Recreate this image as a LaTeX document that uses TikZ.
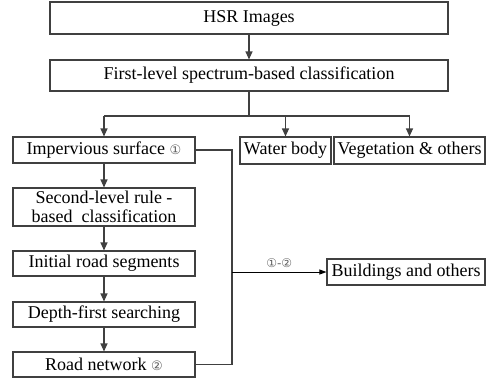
\documentclass[tikz,border=0pt]{standalone}
\usepackage{fontspec}
\setmainfont{Liberation Serif}
\newfontfamily\symfont{DejaVu Sans}
\usetikzlibrary{arrows.meta}
\definecolor{linegray}{HTML}{404040}
\definecolor{circgray}{HTML}{606060}
\newcommand{\cOne}{{\symfont\color{circgray}\fontsize{13pt}{13pt}\selectfont ①}}
\newcommand{\cTwo}{{\symfont\color{circgray}\fontsize{13pt}{13pt}\selectfont ②}}
\begin{document}
\begin{tikzpicture}[x=1pt,y=-1pt,
  box/.style={draw=linegray,line width=1.1pt,rectangle,inner sep=0pt,align=center,
    font=\fontsize{18pt}{18.5pt}\selectfont},
  conn/.style={draw=linegray,line width=1.1pt},
  arr/.style={conn,-{Triangle[length=8pt,width=7pt]}},
  thinarr/.style={draw=black,line width=0.9pt,-{Triangle[length=7pt,width=5pt]}}]
\useasboundingbox (0,0) rectangle (489,384);
\node[box,minimum width=398pt,minimum height=32pt] (hsr) at (249,18) {HSR Images};
\node[box,minimum width=398pt,minimum height=31pt] (first) at (249,75.5) {First-level spectrum-based classification};
\node[box,minimum width=182pt,minimum height=26pt] (imp) at (104,150) {Impervious surface \cOne};
\node[box,minimum width=182pt,minimum height=38pt] (second) at (104,207) {Second-level rule -\\based\ \ classification};
\node[box,minimum width=182pt,minimum height=25pt] (init) at (104,263.5) {Initial road segments};
\node[box,minimum width=182pt,minimum height=25pt] (depth) at (104,314.5) {Depth-first searching};
\node[box,minimum width=182pt,minimum height=25pt] (road) at (104,364.5) {Road network \cTwo};
\node[box,minimum width=91pt,minimum height=27pt] (water) at (285.5,150.5) {Water body};
\node[box,minimum width=151pt,minimum height=27pt] (veg) at (409.5,150.5) {Vegetation \& others};
\node[box,minimum width=158pt,minimum height=26pt] (bld) at (406,272) {Buildings and others};
\coordinate (split) at (249,116);
\coordinate (sl) at (104,116);
\coordinate (sm) at (285.5,116);
\coordinate (sr) at (409.5,116);
\coordinate (rt) at (232,150);
\coordinate (rb) at (232,364.5);
\coordinate (rm) at (232,272);
\draw[arr] (hsr) -- (first);
\draw[conn] (first.south) -- (split);
\draw[conn] (sl) -- (sr);
\draw[arr] (sl) -- (imp.north);
\draw[arr] (sm) -- (water.north);
\draw[arr] (sr) -- (veg.north);
\draw[arr] (imp) -- (second);
\draw[arr] (second) -- (init);
\draw[arr] (init) -- (depth);
\draw[arr] (depth) -- (road);
\draw[conn] (imp.east) -- (rt) -- (rb) -- (road.east);
\draw[thinarr] (rm) -- node[above=1pt,font=\symfont\fontsize{12pt}{12pt}\selectfont,text=circgray]{①-②} (bld.west);
\end{tikzpicture}
\end{document}
